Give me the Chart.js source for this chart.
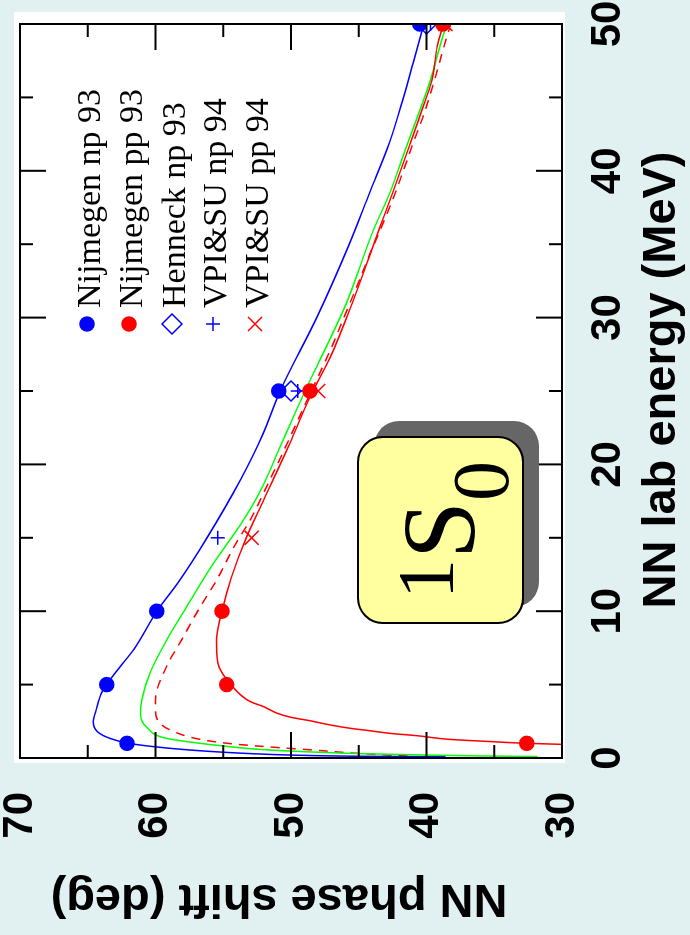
<!DOCTYPE html>
<html>
<head>
<meta charset="utf-8">
<script src="https://cdn.jsdelivr.net/npm/chart.js@4.4.1/dist/chart.umd.min.js"></script>
<style>
  html, body { margin: 0; padding: 0; background: #e1f0f0; overflow: hidden; }
  body { width: 690px; height: 935px; position: relative; }
  /* chart is drawn landscape, then turned a quarter turn to the left */
  #wrap { position: absolute; left: 0; top: 0; width: 935px; height: 690px;
          transform-origin: 0 0; transform: translate(0, 935px) rotate(-90deg); }
</style>
</head>
<body>
<div id="wrap"><canvas id="chart" width="935" height="690"></canvas></div>
<script>
// axis ticks
const energyMajor = [0, 10, 20, 30, 40, 50];
const energyMinor = [5, 15, 25, 35, 45];
const phaseMajor = [30, 40, 50, 60, 70];
const phaseMinor = [35, 45, 55, 65];

// measured phase shifts
const nijNpE = [1, 5, 10, 25, 50];
const nijNpPhase = [62.1, 63.6, 59.9, 50.9, 40.5];
const nijPpE = [1, 5, 10, 25, 50];
const nijPpPhase = [32.6, 54.75, 55.1, 48.6, 38.8];
const henneckE = [25, 50];
const henneckPhase = [50.0, 40.0];
const vpiNpE = [15, 25, 50];
const vpiNpPhase = [55.4, 49.5, 39.7];
const vpiPpE = [15, 25, 50];
const vpiPpPhase = [52.9, 48.0, 38.6];

// model curves
const npCurveE = [0.08, 0.12, 0.2, 0.3, 0.45, 0.6, 0.75, 1.0, 1.35, 1.8, 2.5, 3.2, 4.4, 5, 6, 7.4, 10, 12, 15, 19, 22, 25, 30, 35, 38.5, 42, 45, 47.3, 50];
const npCurvePhase = [38.6, 45, 50, 53, 56, 58.2, 59.9, 62.0, 63.4, 64.3, 64.6, 64.4, 64.0, 63.6, 62.8, 61.6, 59.9, 58.3, 56.2, 53.7, 52.1, 50.8, 48.1, 45.7, 44.2, 42.7, 41.7, 41.0, 40.2];

const ppCurveE = [0.9, 1.0, 1.13, 1.27, 1.52, 1.68, 1.86, 2.02, 2.25, 2.54, 2.77, 3.04, 3.49, 3.84, 4.86, 6.5, 8, 10, 12.3, 15, 17.6, 21.4, 24.6, 27.3, 30.7, 36, 38.5, 41.6, 44.1, 46.2, 48.5, 50];
const ppCurvePhase = [28.8, 32.6, 35.5, 38.3, 40.7, 42.7, 44.2, 45.6, 47.1, 48.6, 50.0, 51.0, 52.0, 53.0, 54.3, 55.4, 55.5, 55.1, 54.4, 53.3, 52.0, 50.1, 48.6, 47.1, 45.6, 43.5, 42.5, 41.3, 40.35, 39.6, 39.2, 38.75];

const greenCurveE = [0.1, 0.14, 0.2, 0.3, 0.45, 0.6, 0.77, 1.0, 1.34, 2.1, 3.0, 4.0, 5.8, 8.0, 10.3, 13.3, 15.8, 18.3, 21.2, 23.7, 26.2, 28, 31, 36, 38.5, 41.6, 44.1, 46.2, 48.5, 50];
const greenCurvePhase = [31.8, 36, 40, 45, 49.5, 52.5, 54.5, 56.7, 59.2, 60.65, 61.1, 61.0, 60.4, 59.2, 57.7, 55.7, 53.8, 52.2, 50.8, 49.6, 48.35, 47.4, 45.9, 43.9, 42.7, 41.5, 40.5, 39.7, 39.0, 38.5];

const dashCurveE = [0.14, 0.25, 0.36, 0.54, 0.7, 0.82, 0.95, 1.27, 1.9, 2.4, 3.2, 3.95, 6.2, 8.0, 10.3, 12.1, 14.4, 16.4, 18.3, 21, 24, 28, 30, 32.1, 34.4, 36, 38.5, 41.6, 44.1, 46.2, 48.5, 50];
const dashCurvePhase = [41.4, 43.8, 45.8, 48.3, 50.8, 52.5, 54.2, 56.7, 58.9, 59.7, 60.0, 60.0, 59.2, 58.1, 56.7, 55.5, 54.2, 52.9, 51.9, 50.5, 49.0, 47.0, 46.1, 45.15, 44.15, 43.4, 42.3, 41.1, 40.1, 39.4, 38.7, 38.2];

const legendLabels = ['Nijmegen np 93', 'Nijmegen pp 93', 'Henneck np 93', 'VPI&SU np 94', 'VPI&SU pp 94'];

const BLUE = '#0000ff', RED = '#ff0000', GREEN = '#00ff00';
const SANS = "'Liberation Sans', Arial, sans-serif";
const SERIF = "'Liberation Serif', 'Times New Roman', serif";

function pts(xs, ys) {
  return xs.map((x, i) => ({ x: x, y: ys[i] }));
}

function marks(label, xs, ys, style, radius, color, fill) {
  return {
    label: label, data: pts(xs, ys), showLine: false, order: 0,
    pointStyle: style, pointRadius: radius, pointHoverRadius: radius,
    borderColor: color, backgroundColor: fill, borderWidth: 1.5
  };
}

function curve(xs, ys, color, dash) {
  return {
    data: pts(xs, ys), showLine: true, order: 1, pointRadius: 0,
    borderColor: color, borderWidth: 1.5, borderDash: dash || [],
    cubicInterpolationMode: 'monotone', fill: false
  };
}

// keep the plot frame where it is, whatever the tick labels need
function fixAxis(size, prop) {
  return s => {
    s[prop] = size;
    s.paddingTop = 0; s.paddingBottom = 0; s.paddingLeft = 0; s.paddingRight = 0;
  };
}

const legendRows = [87, 129, 172, 213, 255];

const framePlugin = {
  id: 'frame',
  beforeDraw(chart) {
    const c = chart.ctx;
    c.save();
    c.fillStyle = '#ffffff';
    c.fillRect(172, 14, 751, 551);
    c.restore();
  },
  afterDatasetsDraw(chart) {
    const c = chart.ctx;
    const a = chart.chartArea;
    const xs = chart.scales.x, ys = chart.scales.y;
    c.save();
    c.strokeStyle = '#000';
    c.lineWidth = 2;
    c.strokeRect(a.left, a.top, a.right - a.left, a.bottom - a.top);

    // inward ticks on all four sides
    c.beginPath();
    const xTicks = (vals, len) => vals.forEach(v => {
      const p = xs.getPixelForValue(v);
      c.moveTo(p, a.top); c.lineTo(p, a.top + len);
      c.moveTo(p, a.bottom); c.lineTo(p, a.bottom - len);
    });
    const yTicks = (vals, len) => vals.forEach(v => {
      const p = ys.getPixelForValue(v);
      c.moveTo(a.left, p); c.lineTo(a.left + len, p);
      c.moveTo(a.right, p); c.lineTo(a.right - len, p);
    });
    xTicks(energyMajor, 26); xTicks(energyMinor, 13);
    yTicks(phaseMajor, 26); yTicks(phaseMinor, 13);
    c.stroke();

    // 1S0 label box
    c.fillStyle = '#666666';
    c.beginPath(); c.roundRect(328, 374, 186, 165, 25); c.fill();
    c.fillStyle = '#ffffa0';
    c.beginPath(); c.roundRect(312, 358, 186, 165, 25); c.fill(); c.stroke();
    c.fillStyle = '#000';
    c.textAlign = 'left'; c.textBaseline = 'alphabetic';
    c.font = '80px ' + SERIF; c.fillText('1', 336, 453);
    c.font = '104px ' + SERIF; c.fillText('S', 376, 474);
    c.font = '80px ' + SERIF; c.fillText('0', 434, 508);

    // legend
    chart.data.datasets.slice(0, 5).forEach((ds, i) => {
      const v = legendRows[i];
      c.fillStyle = ds.backgroundColor;
      c.strokeStyle = ds.borderColor;
      c.lineWidth = ds.borderWidth;
      Chart.helpers.drawPoint(c, { pointStyle: ds.pointStyle, radius: ds.pointRadius, rotation: 0, borderWidth: ds.borderWidth }, 611, v);
      c.fillStyle = '#000';
      c.font = '34px ' + SERIF;
      c.fillText(ds.label, 627, v + 13);
    });

    // axis titles
    c.font = 'bold 47px ' + SANS;
    c.textAlign = 'center';
    c.fillText('NN lab energy (MeV)', 555, 675);
    c.translate(50, 279);
    c.rotate(-Math.PI / 2);
    c.fillText('NN phase shift (deg)', 0, 0);
    c.restore();
  }
};

const tickFont = { family: SANS, size: 42, weight: 'bold' };

new Chart(document.getElementById('chart'), {
  type: 'scatter',
  data: {
    datasets: [
      marks(legendLabels[0], nijNpE, nijNpPhase, 'circle', 7, BLUE, BLUE),
      marks(legendLabels[1], nijPpE, nijPpPhase, 'circle', 7, RED, RED),
      marks(legendLabels[2], henneckE, henneckPhase, 'rectRot', 10, BLUE, 'rgba(255,255,255,0)'),
      marks(legendLabels[3], vpiNpE, vpiNpPhase, 'cross', 7, BLUE, BLUE),
      marks(legendLabels[4], vpiPpE, vpiPpPhase, 'crossRot', 10, RED, RED),
      curve(npCurveE, npCurvePhase, BLUE),
      curve(ppCurveE, ppCurvePhase, RED),
      curve(greenCurveE, greenCurvePhase, GREEN),
      curve(dashCurveE, dashCurvePhase, RED, [9, 7])
    ]
  },
  options: {
    responsive: false,
    animation: false,
    devicePixelRatio: 1,
    layout: { autoPadding: false, padding: { top: 20, right: 24, left: 0, bottom: 0 } },
    plugins: { legend: { display: false }, tooltip: { enabled: false } },
    scales: {
      x: {
        type: 'linear', min: 0, max: 50,
        grid: { display: false, drawTicks: false },
        border: { display: false },
        ticks: { stepSize: 10, color: '#000', font: tickFont, padding: 21, maxRotation: 0 },
        afterFit: fixAxis(128, 'height')
      },
      y: {
        type: 'linear', min: 30, max: 70,
        grid: { display: false, drawTicks: false },
        border: { display: false },
        ticks: { stepSize: 10, color: '#000', font: tickFont, padding: 34 },
        afterFit: fixAxis(177, 'width')
      }
    }
  },
  plugins: [framePlugin]
});
</script>
</body>
</html>
